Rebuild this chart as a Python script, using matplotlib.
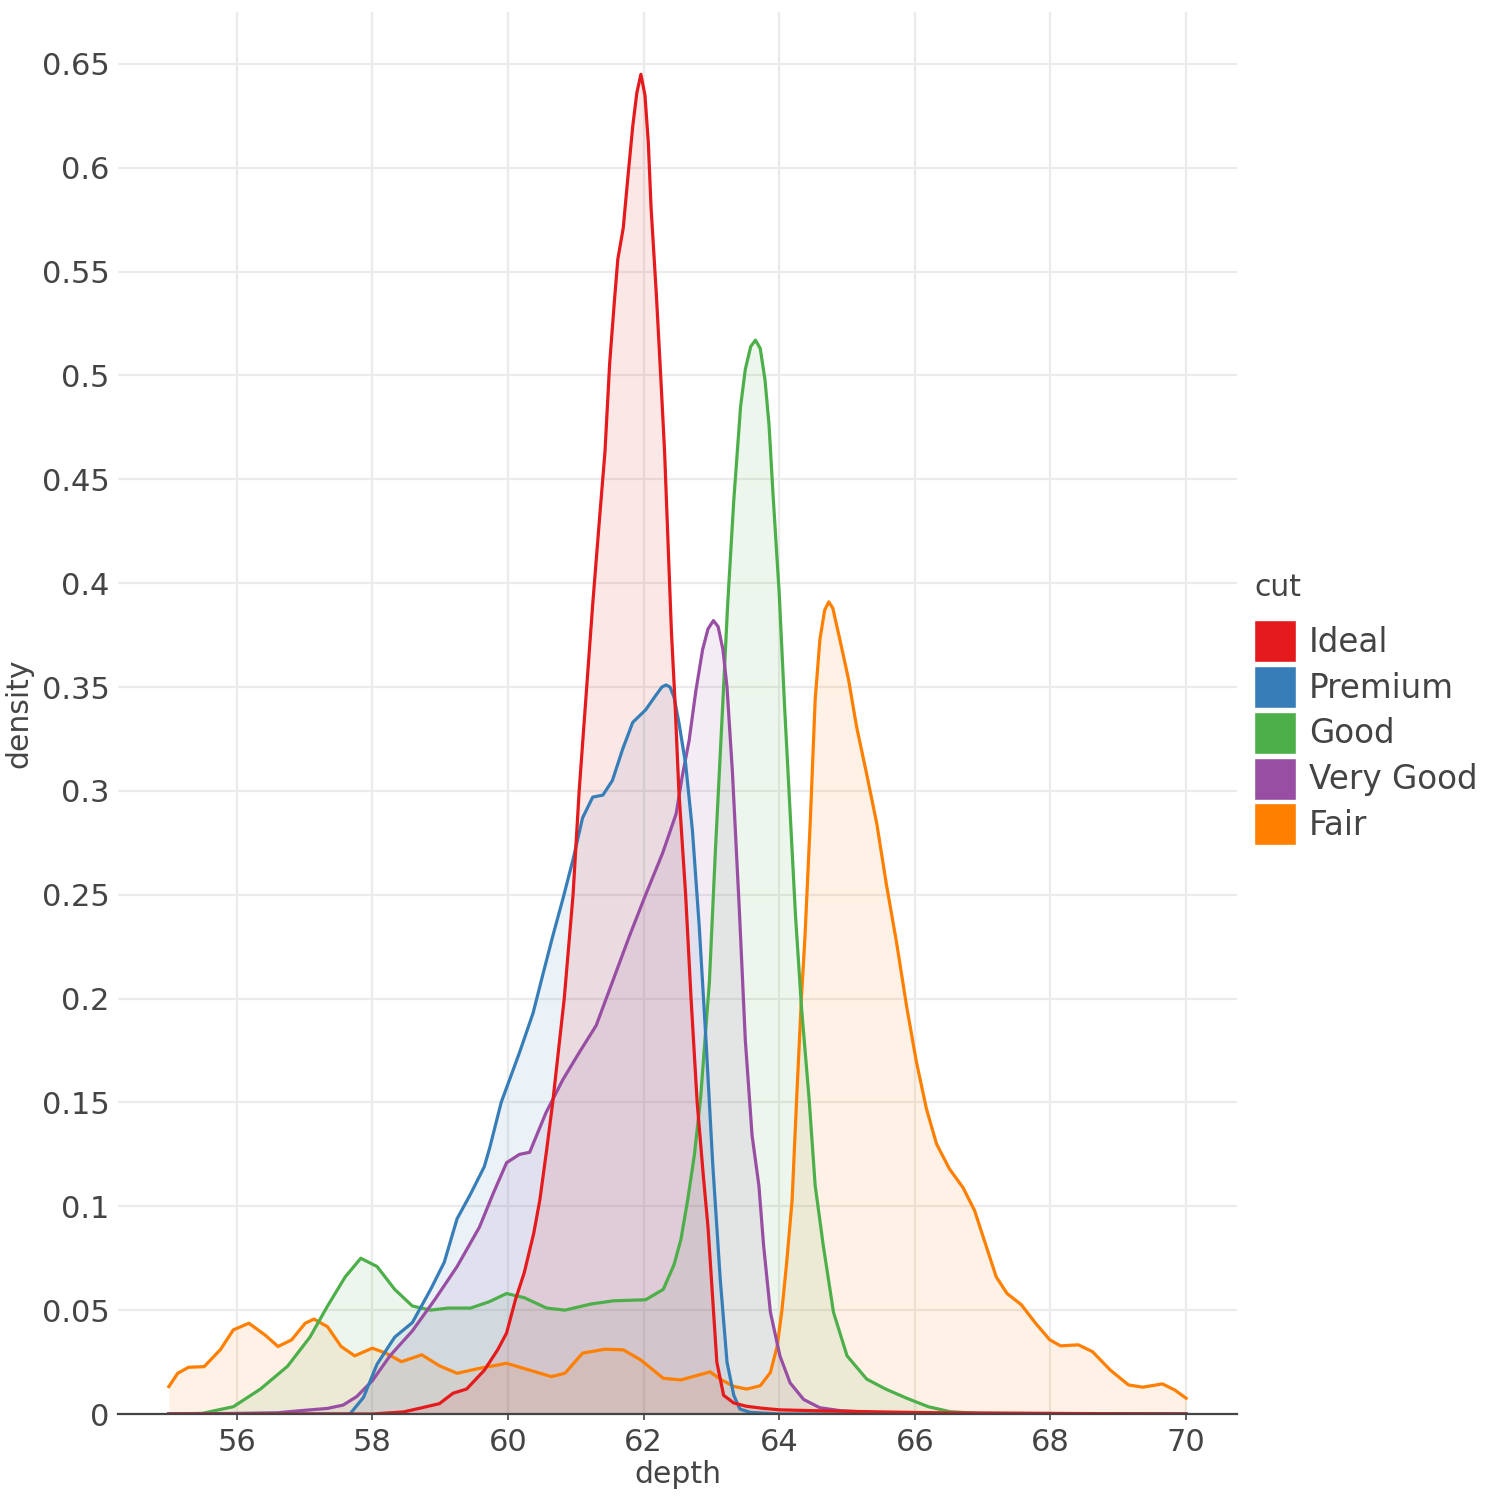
import matplotlib
matplotlib.use("Agg")
import matplotlib.pyplot as plt
from matplotlib.patches import Patch

# density of depth per cut
fair_x = [55.0, 55.13, 55.29, 55.52, 55.76, 55.95, 56.18, 56.42, 56.61, 56.81, 57.01, 57.14,
          57.34, 57.54, 57.74, 58.0, 58.2, 58.43, 58.73, 58.99, 59.25, 59.58, 59.98, 60.31,
          60.64, 60.84, 61.1, 61.43, 61.7, 61.96, 62.29, 62.55, 62.98, 63.13, 63.33, 63.52,
          63.72, 63.87, 63.97, 64.04, 64.11, 64.19, 64.26, 64.33, 64.38, 64.46, 64.53, 64.6,
          64.67, 64.73, 64.79, 64.9, 65.02, 65.14, 65.29, 65.44, 65.58, 65.73, 65.88, 66.02,
          66.17, 66.32, 66.51, 66.71, 66.88, 67.04, 67.2, 67.36, 67.57, 67.78, 67.99, 68.15,
          68.41, 68.62, 68.88, 69.15, 69.36, 69.65, 69.83, 70.0]
fair_y = [0.0132, 0.0196, 0.0225, 0.0228, 0.031, 0.0405, 0.0437, 0.038, 0.0325, 0.0357, 0.0437, 0.0457,
          0.042, 0.0325, 0.028, 0.0317, 0.0293, 0.0252, 0.0285, 0.0232, 0.0196, 0.022, 0.0244, 0.0212,
          0.018, 0.0196, 0.0293, 0.0312, 0.0309, 0.026, 0.0172, 0.0164, 0.0203, 0.0168, 0.0133, 0.012,
          0.0136, 0.02, 0.0327, 0.05, 0.073, 0.103, 0.154, 0.202, 0.23, 0.287, 0.344, 0.373,
          0.387, 0.391, 0.388, 0.372, 0.354, 0.331, 0.308, 0.284, 0.255, 0.227, 0.196, 0.17,
          0.147, 0.13, 0.118, 0.109, 0.098, 0.082, 0.066, 0.058, 0.0526, 0.0437, 0.0357, 0.0328,
          0.0333, 0.030, 0.0212, 0.014, 0.0129, 0.0145, 0.0116, 0.0076]

good_x = [55.0, 55.49, 55.95, 56.35, 56.75, 57.08, 57.34, 57.6, 57.83, 58.07, 58.33, 58.59,
          58.86, 59.12, 59.45, 59.72, 59.98, 60.24, 60.57, 60.84, 61.23, 61.56, 62.03, 62.29,
          62.45, 62.55, 62.65, 62.75, 62.84, 62.97, 63.06, 63.16, 63.24, 63.33, 63.43, 63.5,
          63.58, 63.65, 63.72, 63.79, 63.85, 63.91, 64.0, 64.08, 64.16, 64.24, 64.33, 64.44,
          64.53, 64.65, 64.8, 65.0, 65.29, 65.57, 65.88, 66.2, 66.52, 66.94, 68.0, 70.0]
good_y = [0.0, 0.0003, 0.0035, 0.012, 0.023, 0.037, 0.052, 0.066, 0.075, 0.071, 0.06, 0.052,
          0.050, 0.051, 0.051, 0.054, 0.058, 0.056, 0.051, 0.050, 0.053, 0.0545, 0.055, 0.06,
          0.072, 0.084, 0.103, 0.125, 0.152, 0.208, 0.272, 0.337, 0.39, 0.44, 0.485, 0.503,
          0.514, 0.517, 0.513, 0.498, 0.476, 0.442, 0.395, 0.34, 0.29, 0.24, 0.195, 0.152,
          0.11, 0.081, 0.049, 0.028, 0.0168, 0.012, 0.0076, 0.0035, 0.0011, 0.0003, 0.0, 0.0]

vgood_x = [55.0, 56.0, 56.6, 56.94, 57.34, 57.57, 57.77, 58.0, 58.26, 58.59, 58.92, 59.25,
           59.58, 59.78, 59.98, 60.17, 60.32, 60.56, 60.81, 61.05, 61.3, 61.54, 61.79, 62.03,
           62.28, 62.48, 62.57, 62.67, 62.77, 62.87, 62.95, 63.03, 63.1, 63.17, 63.23, 63.31,
           63.41, 63.5, 63.6, 63.7, 63.77, 63.87, 64.01, 64.16, 64.36, 64.6, 64.9, 65.5, 70.0]
vgood_y = [0.0, 0.0003, 0.0006, 0.0016, 0.0027, 0.0043, 0.0084, 0.016, 0.028, 0.040, 0.055, 0.071,
           0.09, 0.106, 0.121, 0.125, 0.126, 0.145, 0.161, 0.174, 0.187, 0.208, 0.23, 0.25,
           0.27, 0.289, 0.307, 0.324, 0.348, 0.368, 0.378, 0.382, 0.379, 0.368, 0.35, 0.309,
           0.244, 0.18, 0.134, 0.11, 0.081, 0.049, 0.028, 0.015, 0.007, 0.003, 0.0016, 0.0005, 0.0]

premium_x = [55.0, 57.0, 57.67, 57.87, 58.07, 58.33, 58.59, 58.86, 59.06, 59.25, 59.45, 59.65,
             59.73, 59.9, 60.17, 60.37, 60.51, 60.66, 60.81, 60.96, 61.1, 61.25, 61.4, 61.54,
             61.69, 61.84, 62.03, 62.18, 62.27, 62.33, 62.39, 62.45, 62.52, 62.62, 62.72, 62.82,
             62.92, 63.02, 63.13, 63.23, 63.33, 63.42, 63.57, 64.0, 70.0]
premium_y = [0.0, 0.0, 0.0, 0.008, 0.024, 0.037, 0.044, 0.06, 0.073, 0.094, 0.106, 0.119,
             0.128, 0.15, 0.174, 0.193, 0.211, 0.23, 0.248, 0.267, 0.287, 0.297, 0.298, 0.305,
             0.32, 0.333, 0.339, 0.346, 0.35, 0.351, 0.35, 0.345, 0.333, 0.313, 0.281, 0.235,
             0.18, 0.12, 0.065, 0.025, 0.009, 0.0024, 0.0008, 0.0, 0.0]

ideal_x = [55.0, 58.0, 58.46, 58.73, 58.99, 59.19, 59.39, 59.65, 59.85, 59.98, 60.11, 60.24,
           60.38, 60.47, 60.57, 60.66, 60.83, 60.96, 61.05, 61.15, 61.25, 61.35, 61.43, 61.5,
           61.57, 61.62, 61.7, 61.77, 61.84, 61.9, 61.96, 62.02, 62.07, 62.11, 62.19, 62.26,
           62.31, 62.36, 62.41, 62.46, 62.52, 62.62, 62.7, 62.79, 62.88, 62.95, 63.0, 63.08,
           63.18, 63.33, 63.52, 63.77, 64.01, 64.5, 65.49, 66.5, 70.0]
ideal_y = [0.0, 0.0, 0.001, 0.003, 0.005, 0.010, 0.012, 0.021, 0.031, 0.039, 0.055, 0.068,
           0.087, 0.103, 0.127, 0.15, 0.2, 0.25, 0.3, 0.345, 0.39, 0.431, 0.463, 0.506,
           0.536, 0.556, 0.571, 0.596, 0.62, 0.636, 0.645, 0.635, 0.612, 0.581, 0.538, 0.495,
           0.463, 0.42, 0.377, 0.345, 0.3, 0.25, 0.2, 0.15, 0.115, 0.09, 0.065, 0.025,
           0.009, 0.0053, 0.0037, 0.0027, 0.002, 0.0016, 0.001, 0.0005, 0.0]

# drawing order (bottom to top) and legend order
series = [
    ("Fair", fair_x, fair_y, "#ff7f00"),
    ("Good", good_x, good_y, "#4daf4a"),
    ("Very Good", vgood_x, vgood_y, "#984ea3"),
    ("Premium", premium_x, premium_y, "#377eb8"),
    ("Ideal", ideal_x, ideal_y, "#e41a1c"),
]
legend_order = ["Ideal", "Premium", "Good", "Very Good", "Fair"]

x_ticks = [56, 58, 60, 62, 64, 66, 68, 70]
y_ticks = [0, 0.05, 0.1, 0.15, 0.2, 0.25, 0.3, 0.35, 0.4, 0.45, 0.5, 0.55, 0.6, 0.65]
y_labels = ["0", "0.05", "0.1", "0.15", "0.2", "0.25", "0.3", "0.35", "0.4", "0.45",
            "0.5", "0.55", "0.6", "0.65"]

txt = "#444444"
grid = "#ebebeb"

fig = plt.figure(figsize=(15, 15), dpi=100)
ax = fig.add_axes([118 / 1500, 86 / 1500, (1237 - 118) / 1500, (1414 - 12) / 1500])

colors = {}
for name, xs, ys, c in series:
    ax.fill_between(xs, ys, color=c, alpha=0.1, linewidth=0)
    ax.plot(xs, ys, color=c, linewidth=2.3, solid_joinstyle="round")
    colors[name] = c

ax.set_xlim(54.25, 70.75)
ax.set_ylim(0, 0.675)
ax.set_xticks(x_ticks)
ax.set_yticks(y_ticks)
ax.set_yticklabels(y_labels)
ax.grid(True, color=grid, linewidth=1.6)
ax.set_axisbelow(True)
for s in ["top", "right", "left"]:
    ax.spines[s].set_visible(False)
ax.spines["bottom"].set_color(txt)
ax.spines["bottom"].set_linewidth(1.6)
ax.spines["bottom"].set_zorder(5)
ax.tick_params(axis="x", colors=txt, labelsize=22, length=4, width=1.2, pad=6)
ax.tick_params(axis="y", colors=txt, labelsize=22, length=0, pad=6)
ax.set_xlabel("depth", fontsize=21.5, color=txt, labelpad=2)
ax.set_ylabel("density", fontsize=21.5, color=txt, labelpad=6)

handles = [Patch(facecolor=colors[n], edgecolor="white", linewidth=1, label=n) for n in legend_order]
leg = ax.legend(handles=handles, loc="upper left",
                bbox_to_anchor=(1254 / 1500, 1 - 620 / 1500), bbox_transform=fig.transFigure,
                frameon=False, fontsize=23.5,
                handlelength=1.29, handleheight=1.6, handletextpad=0.4,
                labelspacing=0.12, borderpad=0, borderaxespad=0)
for t in leg.get_texts():
    t.set_color(txt)
fig.text(1254 / 1500, 1 - 588 / 1500, "cut", fontsize=21.5, color=txt, ha="left", va="center")

fig.savefig("out.png", dpi=100)
